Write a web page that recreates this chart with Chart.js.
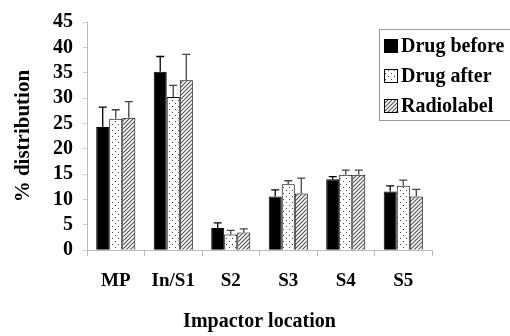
<!DOCTYPE html>
<html>
<head>
<meta charset="utf-8">
<script src="https://cdn.jsdelivr.net/npm/chart.js@4/dist/chart.umd.min.js"></script>
<style>
  html, body { margin: 0; padding: 0; background: #fff; }
  #wrap { width: 510px; height: 336px; position: relative; }
</style>
</head>
<body>
<div id="wrap"><canvas id="impactorChart"></canvas></div>
<script>
const locations = ['MP', 'In/S1', 'S2', 'S3', 'S4', 'S5'];
const seriesNames = ['Drug before', 'Drug after', 'Radiolabel'];

const drugBefore = [24.3, 35.2, 4.4, 10.6, 14.0, 11.6];
const drugBeforeErr = [3.9, 3.0, 1.0, 1.3, 0.5, 1.1];
const drugAfter = [25.9, 30.2, 3.1, 13.0, 14.9, 12.7];
const drugAfterErr = [1.8, 2.3, 0.8, 0.7, 0.9, 1.1];
const radiolabel = [26.1, 33.5, 3.5, 11.2, 14.9, 10.6];
const radiolabelErr = [3.2, 5.1, 0.7, 3.0, 0.9, 1.4];

const yTicks = [0, 5, 10, 15, 20, 25, 30, 35, 40, 45];

const serif = "'Liberation Serif', 'Times New Roman', serif";

function dotPattern() {
    const c = document.createElement('canvas');
    c.width = 6; c.height = 6;
    const g = c.getContext('2d');
    g.fillStyle = '#fff';
    g.fillRect(0, 0, 6, 6);
    g.fillStyle = '#444';
    g.fillRect(1, 1, 1, 1);
    g.fillRect(4, 4, 1, 1);
    return g.createPattern(c, 'repeat');
}

function hatchPattern() {
    const c = document.createElement('canvas');
    c.width = 4; c.height = 4;
    const g = c.getContext('2d');
    g.fillStyle = '#fff';
    g.fillRect(0, 0, 4, 4);
    g.strokeStyle = '#555';
    g.lineWidth = 1.2;
    g.beginPath();
    g.moveTo(0, 4); g.lineTo(4, 0);
    g.moveTo(-1, 1); g.lineTo(1, -1);
    g.moveTo(3, 5); g.lineTo(5, 3);
    g.stroke();
    return g.createPattern(c, 'repeat');
}

const errors = [drugBeforeErr, drugAfterErr, radiolabelErr];

// one-sided error bars, drawn from the bar top upwards
const errorBars = {
    id: 'errorBars',
    afterDatasetsDraw(chart) {
        const ctx = chart.ctx;
        const y = chart.scales.y;
        ctx.save();
        chart.data.datasets.forEach((ds, i) => {
            const meta = chart.getDatasetMeta(i);
            ctx.strokeStyle = i === 0 ? '#000' : '#444';
            ctx.lineWidth = 1.3;
            meta.data.forEach((bar, j) => {
                const top = y.getPixelForValue(ds.data[j] + errors[i][j]);
                ctx.beginPath();
                ctx.moveTo(bar.x, bar.y);
                ctx.lineTo(bar.x, top);
                ctx.moveTo(bar.x - 4, top);
                ctx.lineTo(bar.x + 4, top);
                ctx.stroke();
            });
        });
        ctx.restore();
    }
};

const boxLegend = {
    id: 'boxLegend',
    afterDraw(chart) {
        const ctx = chart.ctx;
        ctx.save();
        ctx.strokeStyle = '#999';
        ctx.lineWidth = 1;
        ctx.strokeRect(379.5, 29.5, 140, 91);
        ctx.font = 'bold 20px ' + serif;
        ctx.textBaseline = 'middle';
        chart.data.datasets.forEach((ds, i) => {
            const cy = 46 + i * 30;
            ctx.fillStyle = ds.backgroundColor;
            ctx.fillRect(384, cy - 7, 14, 14);
            ctx.strokeStyle = '#000';
            ctx.strokeRect(384.5, cy - 6.5, 13, 13);
            ctx.fillStyle = '#000';
            ctx.fillText(ds.label, 401, cy + 1);
        });
        ctx.restore();
    }
};

new Chart(document.getElementById('impactorChart'), {
    type: 'bar',
    data: {
        labels: locations,
        datasets: [
            { label: seriesNames[0], data: drugBefore, backgroundColor: '#000' },
            { label: seriesNames[1], data: drugAfter, backgroundColor: dotPattern() },
            { label: seriesNames[2], data: radiolabel, backgroundColor: hatchPattern() }
        ].map(d => Object.assign(d, {
            borderColor: '#000',
            borderWidth: 1,
            barPercentage: 1.0,
            categoryPercentage: 0.68
        }))
    },
    options: {
        responsive: true,
        maintainAspectRatio: false,
        animation: false,
        layout: { padding: { left: 7, right: 78, top: 21, bottom: 0 } },
        plugins: {
            legend: { display: false },
            tooltip: { enabled: false }
        },
        scales: {
            x: {
                grid: { display: true, drawOnChartArea: false, offset: true, color: '#bbb', tickLength: 6 },
                border: { color: '#bbb' },
                ticks: { color: '#000', font: { family: serif, size: 19, weight: 'bold' }, padding: 13 },
                title: {
                    display: true,
                    text: 'Impactor location',
                    color: '#000',
                    font: { family: serif, size: 20, weight: 'bold' },
                    padding: { top: 5, bottom: 2 }
                }
            },
            y: {
                min: 0,
                max: 45,
                afterBuildTicks: axis => { axis.ticks = yTicks.map(v => ({ value: v })); },
                afterFit: axis => { axis.width = 80; },
                grid: { display: true, drawOnChartArea: false, color: '#ccc', tickLength: 4 },
                border: { color: '#bbb' },
                ticks: { color: '#000', font: { family: serif, size: 20, weight: 'bold' }, padding: 10, autoSkip: false },
                title: {
                    display: true,
                    text: '% distribution',
                    color: '#000',
                    font: { family: serif, size: 21, weight: 'bold' },
                    padding: { bottom: 8 }
                }
            }
        }
    },
    plugins: [errorBars, boxLegend]
});
</script>
</body>
</html>
